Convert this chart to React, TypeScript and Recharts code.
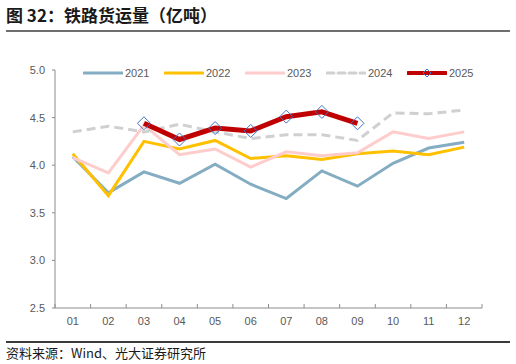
import { LineChart, Line, XAxis, YAxis, Legend } from "recharts";

const months = ["01", "02", "03", "04", "05", "06", "07", "08", "09", "10", "11", "12"];
const y2021 = [4.09, 3.71, 3.93, 3.81, 4.01, 3.8, 3.65, 3.94, 3.78, 4.02, 4.18, 4.24];
const y2022 = [4.12, 3.68, 4.25, 4.17, 4.26, 4.07, 4.1, 4.06, 4.12, 4.15, 4.11, 4.19];
const y2023 = [4.08, 3.92, 4.42, 4.11, 4.17, 3.98, 4.14, 4.1, 4.13, 4.35, 4.28, 4.35];
const y2024 = [4.35, 4.41, 4.35, 4.43, 4.35, 4.28, 4.32, 4.32, 4.26, 4.55, 4.54, 4.58];
const y2025 = [null, null, 4.44, 4.27, 4.39, 4.36, 4.51, 4.56, 4.44, null, null, null];
const yTicks = [2.5, 3.0, 3.5, 4.0, 4.5, 5.0];

const data = months.map((m, i) => ({
  x: i + 0.5,
  month: m,
  y2021: y2021[i],
  y2022: y2022[i],
  y2023: y2023[i],
  y2024: y2024[i],
  y2025: y2025[i],
}));

// series styling (kept apart from the values)
const series = [
  { key: "y2021", name: "2021", color: "#84adc3", width: 3, dash: undefined },
  { key: "y2022", name: "2022", color: "#ffc000", width: 3, dash: undefined },
  { key: "y2023", name: "2023", color: "#ffcccc", width: 3, dash: undefined },
  { key: "y2024", name: "2024", color: "#d0d0d0", width: 3, dash: "9 5" },
  { key: "y2025", name: "2025", color: "#c00000", width: 5, dash: undefined },
];

const W = 516;
const H = 364;
const LEFT = 55;
const RIGHT = 34;
const TOP = 70;
const AXIS_Y = 308;
const BAND = (W - LEFT - RIGHT) / 12;
const AXIS_COLOR = "#8c8c8c";
const TEXT_COLOR = "#595959";
const NUM_FONT = "'Liberation Sans', Arial, sans-serif";
const CJK_FONT = "'Noto Sans CJK SC', 'Noto Sans', sans-serif";

function Diamond(props: any) {
  const { cx, cy } = props;
  if (cx == null || cy == null || props.value == null) return null;
  const r = 6.5;
  return (
    <polygon
      points={`${cx},${cy - r} ${cx + r},${cy} ${cx},${cy + r} ${cx - r},${cy}`}
      fill="none"
      stroke="#4472c4"
      strokeWidth={1}
    />
  );
}

function MonthTick(props: any) {
  const { x, payload, index } = props;
  const label = months[Math.round(payload.value - 0.5)];
  return (
    <g>
      <line x1={x - BAND / 2} x2={x - BAND / 2} y1={AXIS_Y} y2={AXIS_Y - 4} stroke={AXIS_COLOR} />
      {index === months.length - 1 && (
        <line x1={x + BAND / 2} x2={x + BAND / 2} y1={AXIS_Y} y2={AXIS_Y - 4} stroke={AXIS_COLOR} />
      )}
      <text x={x} y={AXIS_Y + 17} textAnchor="middle" fontSize={11} fill={TEXT_COLOR} fontFamily={NUM_FONT}>
        {label}
      </text>
    </g>
  );
}

function LegendContent() {
  return (
    <div style={{ display: "flex", paddingLeft: 83, height: 14, alignItems: "center" }}>
      {series.map((s) => (
        <div key={s.key} style={{ display: "flex", alignItems: "center", width: 81 }}>
          <svg width={40} height={14} style={{ display: "block" }}>
            <line
              x1={1}
              x2={39}
              y1={7}
              y2={7}
              stroke={s.color}
              strokeWidth={s.key === "y2025" ? 4 : 3}
              strokeDasharray={s.dash ? "7 4" : undefined}
              strokeLinecap="round"
            />
            {s.key === "y2025" && (
              <polygon points="20,3 24,7 20,11 16,7" fill="none" stroke="#4472c4" strokeWidth={1} />
            )}
          </svg>
          <span style={{ fontSize: 11, color: TEXT_COLOR, fontFamily: NUM_FONT, marginLeft: 2 }}>{s.name}</span>
        </div>
      ))}
    </div>
  );
}

export default function App() {
  return (
    <div style={{ position: "absolute", left: 0, top: 0, width: W, height: H, background: "#fff" }}>
      <div
        style={{
          position: "absolute",
          left: 6,
          top: 3,
          fontSize: 17,
          fontWeight: 700,
          fontFamily: CJK_FONT,
          color: "#1a1a1a",
          lineHeight: "24px",
        }}
      >
        图 32：铁路货运量（亿吨）
      </div>
      <div style={{ position: "absolute", left: 6, top: 30, width: 504, height: 2, background: "#6e6e6e" }} />

      <div style={{ position: "absolute", left: 0, top: 0 }}>
        <LineChart
          width={W}
          height={H}
          data={data}
          margin={{ top: TOP, right: RIGHT, bottom: H - AXIS_Y - 30, left: 10 }}
        >
          <XAxis
            dataKey="x"
            type="number"
            domain={[0, 12]}
            ticks={months.map((_, i) => i + 0.5)}
            interval={0}
            tick={<MonthTick />}
            tickLine={false}
            axisLine={{ stroke: AXIS_COLOR, strokeWidth: 1 }}
            height={30}
          />
          <YAxis
            domain={[2.5, 5]}
            ticks={yTicks}
            interval={0}
            width={45}
            tickFormatter={(v: number) => v.toFixed(1)}
            tick={{ fontSize: 11, fill: TEXT_COLOR, fontFamily: NUM_FONT }}
            tickSize={3}
            tickMargin={7}
            tickLine={{ stroke: AXIS_COLOR }}
            axisLine={{ stroke: AXIS_COLOR, strokeWidth: 1 }}
          />
          <Legend
            verticalAlign="middle"
            align="center"
            layout="horizontal"
            wrapperStyle={{ top: 66, left: 0, width: W }}
            content={<LegendContent />}
          />
          {series.map((s) => (
            <Line
              key={s.key}
              dataKey={s.key}
              name={s.name}
              type="linear"
              stroke={s.color}
              strokeWidth={s.width}
              strokeDasharray={s.dash}
              dot={s.key === "y2025" ? <Diamond /> : false}
              activeDot={false}
              connectNulls={false}
              isAnimationActive={false}
            />
          ))}
        </LineChart>
      </div>

      <div style={{ position: "absolute", left: 6, top: 341, width: 504, height: 2, background: "#3a3a3a" }} />
      <div
        style={{
          position: "absolute",
          left: 6,
          top: 344,
          fontSize: 13,
          fontFamily: CJK_FONT,
          color: "#1a1a1a",
          lineHeight: "18px",
        }}
      >
        资料来源：Wind、光大证券研究所
      </div>
    </div>
  );
}
